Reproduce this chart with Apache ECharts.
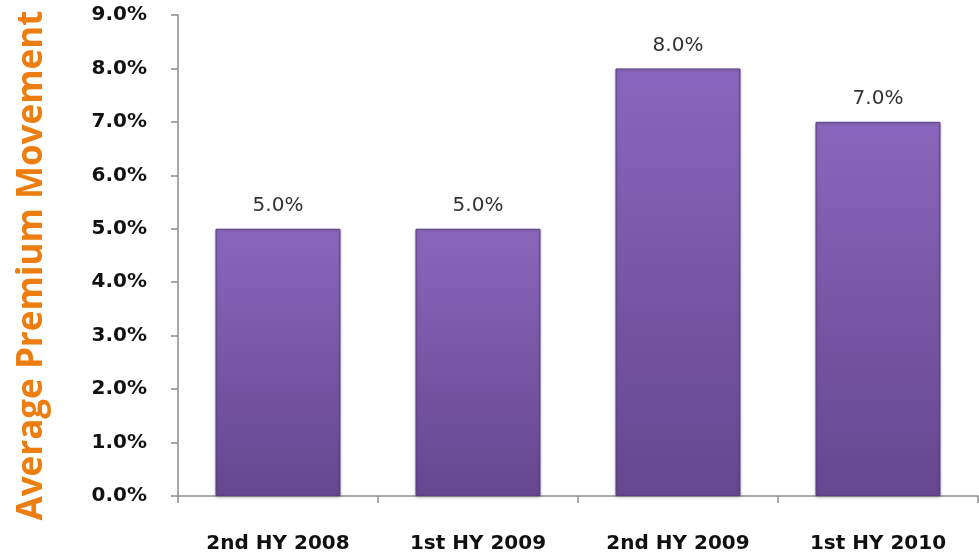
<!DOCTYPE html>
<html>
<head>
<meta charset="utf-8">
<script src="https://cdn.jsdelivr.net/npm/echarts@6/dist/echarts.min.js"></script>
<style>
  html, body { margin: 0; padding: 0; background: #ffffff; }
  #chart { width: 979px; height: 558px; }
</style>
</head>
<body>
<div id="chart"></div>
<script>
// Half-year periods and average premium movement (%)
const categories = ['2nd HY 2008', '1st HY 2009', '2nd HY 2009', '1st HY 2010'];
const premiumMovement = [5.0, 5.0, 8.0, 7.0];
const axisTitle = 'Average Premium Movement';

const chart = echarts.init(document.getElementById('chart'));

const barFill = new echarts.graphic.LinearGradient(0, 0, 0, 1, [
  { offset: 0, color: '#8a66bc' },
  { offset: 1, color: '#654790' }
]);

chart.setOption({
  animation: false,
  backgroundColor: '#ffffff',
  grid: { left: 178, right: 1, top: 15, bottom: 62, containLabel: false, outerBoundsMode: 'none' },
  xAxis: {
    type: 'category',
    data: categories,
    boundaryGap: true,
    axisLine: { lineStyle: { color: '#8c8c8c', width: 1.5 } },
    axisTick: { show: true, alignWithLabel: false, length: 7, lineStyle: { color: '#8c8c8c', width: 1.5 } },
    axisLabel: {
      color: '#111111',
      fontFamily: 'DejaVu Sans, sans-serif',
      fontWeight: 'bold',
      fontSize: 20,
      margin: 38
    },
    splitLine: { show: false }
  },
  yAxis: {
    type: 'value',
    min: 0,
    max: 9,
    interval: 1,
    name: axisTitle,
    nameLocation: 'middle',
    nameGap: 128,
    nameRotate: 90,
    nameTextStyle: {
      color: '#ec7d0e',
      fontFamily: 'Open Sans, DejaVu Sans, sans-serif',
      fontWeight: 'bold',
      fontSize: 35,
      padding: [0, 20, 0, 0]
    },
    axisLine: { show: true, lineStyle: { color: '#8c8c8c', width: 1.5 } },
    axisTick: { show: true, length: 7, lineStyle: { color: '#8c8c8c', width: 1.5 } },
    axisLabel: {
      color: '#111111',
      fontFamily: 'DejaVu Sans, sans-serif',
      fontWeight: 'bold',
      fontSize: 20,
      margin: 31,
      formatter: v => v.toFixed(1) + '%'
    },
    splitLine: { show: false }
  },
  series: [{
    type: 'bar',
    data: premiumMovement,
    barWidth: '62.5%',
    itemStyle: {
      color: barFill,
      borderColor: '#5a3f82',
      borderWidth: 1,
      shadowColor: 'rgba(0,0,0,0.25)',
      shadowBlur: 3,
      shadowOffsetY: 1
    },
    label: {
      show: true,
      position: 'top',
      distance: 13,
      color: '#333333',
      fontFamily: 'DejaVu Sans, sans-serif',
      fontSize: 20,
      formatter: p => p.value.toFixed(1) + '%'
    }
  }]
});
</script>
</body>
</html>
